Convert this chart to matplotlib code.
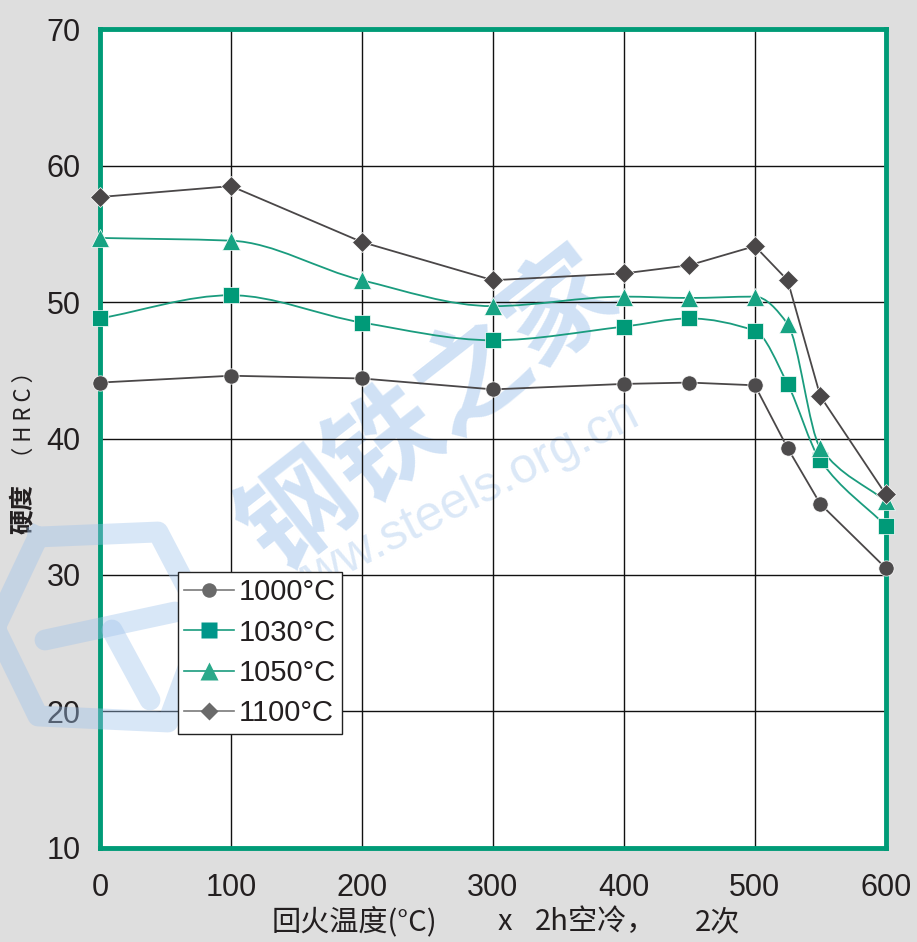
import numpy as np
from matplotlib import pyplot as plt
from matplotlib.path import Path
from matplotlib.patches import PathPatch
from matplotlib.lines import Line2D

plt.rcParams['font.family'] = ['Liberation Sans', 'Noto Sans CJK SC', 'DejaVu Sans']

temps = [0, 100, 200, 300, 400, 450, 500, 525, 550, 600]
hrc_1000 = [44.1, 44.6, 44.4, 43.6, 44.0, 44.1, 43.9, 39.3, 35.2, 30.5]
hrc_1030 = [48.8, 50.5, 48.5, 47.2, 48.2, 48.8, 47.9, 44.0, 38.4, 33.6]
hrc_1050 = [54.7, 54.5, 51.6, 49.7, 50.4, 50.3, 50.4, 48.4, 39.3, 35.4]
hrc_1100 = [57.7, 58.5, 54.4, 51.6, 52.1, 52.7, 54.1, 51.6, 43.1, 35.9]
labels = ['1000°C', '1030°C', '1050°C', '1100°C']

xticks = [0, 100, 200, 300, 400, 500, 600]
yticks = [10, 20, 30, 40, 50, 60, 70]

GREEN = '#009b77'
GRAY = '#4a4748'
INK = '#231f20'
W, H = 917, 942


def smooth_path(x, y):
    # cubic bezier through the points (monotone hermite slopes)
    x = np.asarray(x, float)
    y = np.asarray(y, float)
    h = np.diff(x)
    d = np.diff(y) / h
    m = np.zeros_like(y)
    m[0], m[-1] = d[0], d[-1]
    for i in range(1, len(y) - 1):
        if d[i - 1] * d[i] > 0:
            m[i] = 2 / (1 / d[i - 1] + 1 / d[i])
    verts = [(x[0], y[0])]
    codes = [Path.MOVETO]
    for i in range(len(x) - 1):
        verts += [(x[i] + h[i] / 3, y[i] + m[i] * h[i] / 3),
                  (x[i + 1] - h[i] / 3, y[i + 1] - m[i + 1] * h[i] / 3),
                  (x[i + 1], y[i + 1])]
        codes += [Path.CURVE4] * 3
    return Path(verts, codes)


def px(xs, ys):
    return [v / W for v in xs], [1 - v / H for v in ys]


fig = plt.figure(figsize=(9.17, 9.42), dpi=100, facecolor='#dedede')
ax = fig.add_axes([0.109, 0.1, 0.857, 0.869])
ax.set_xlim(0, 600)
ax.set_ylim(10, 70)
ax.set_xticks(xticks)
ax.set_yticks(yticks)
ax.grid(True, color='#111111', lw=1.0)
ax.set_axisbelow(True)
for s in ax.spines.values():
    s.set_color(GREEN)
    s.set_linewidth(3.5)
ax.tick_params(length=0, labelsize=22, colors=INK)
ax.tick_params(axis='x', pad=18)
ax.tick_params(axis='y', pad=14)

# watermark
ax.text(252, 42, '钢铁之家', fontsize=80, fontweight='bold', color='#a9c9ee',
        alpha=0.55, rotation=38, ha='center', va='center', zorder=0.5,
        family=['Noto Sans CJK SC'])
ax.text(272, 35.2, 'www.steels.org.cn', fontsize=36, color='#c3d9f2',
        alpha=0.6, rotation=27, ha='center', va='center', zorder=0.5)

series = [
    (hrc_1000, GRAY, '#4d4b4c', '#6a6a6a', 'o', 11, False),
    (hrc_1030, '#1a9c7e', '#009a78', '#00968a', 's', 12, True),
    (hrc_1050, '#1a9c7e', '#17a383', '#2aa98a', '^', 13, True),
    (hrc_1100, GRAY, '#4a4748', '#6a6a6a', 'D', 10, False),
]
handles = []
for vals, lc, mc, hc, mk, ms, smooth in series:
    if smooth:
        ax.add_patch(PathPatch(smooth_path(temps, vals), fill=False,
                               edgecolor=lc, lw=1.3, zorder=3))
    else:
        ax.plot(temps, vals, color=lc, lw=1.3, zorder=3)
    ax.plot(temps, vals, ls='none', marker=mk, ms=ms, color=mc,
            mec='white', mew=0.5, zorder=4, clip_on=False)
    handles.append(Line2D([], [], color=lc if smooth else '#7a7a7a', lw=1.2,
                          marker=mk, ms=ms * 0.95, mfc=hc, mec='none'))

# logo watermark (hexagon with T)
logo_kw = dict(color='#9fc3ec', lw=15, alpha=0.4, zorder=5)
hx, hy = px([38, 158, 205, 168, 38, -5, 38], [537, 532, 622, 722, 716, 628, 537])
fig.add_artist(Line2D(hx, hy, solid_joinstyle='round', **logo_kw))
tx, ty = px([45, 175], [640, 612])
fig.add_artist(Line2D(tx, ty, solid_capstyle='round', **logo_kw))
sx, sy = px([112, 150], [630, 700])
fig.add_artist(Line2D(sx, sy, solid_capstyle='round', **logo_kw))

leg = fig.legend(handles, labels, loc='upper left',
                 bbox_to_anchor=(178 / W, 1 - 572 / H), frameon=True,
                 prop={'size': 21},
                 fancybox=False, edgecolor='#222222', framealpha=1,
                 handlelength=1.7, handletextpad=0.15, borderpad=0.22,
                 labelspacing=0.42, borderaxespad=0)
leg.set_zorder(6)
leg.get_frame().set_linewidth(1.0)
for t in leg.get_texts():
    t.set_color(INK)

xl_kw = dict(fontsize=21, va='center', color=INK,
             family=['Noto Sans CJK SC', 'DejaVu Sans'])
fig.text(272 / W, 1 - 922 / H, '回火温度(°C)', ha='left', **xl_kw)
fig.text(505 / W, 1 - 922 / H, 'x', ha='center', **xl_kw)
fig.text(535 / W, 1 - 922 / H, '2h空冷，', ha='left', **xl_kw)
fig.text(740 / W, 1 - 922 / H, '2次', ha='right', **xl_kw)

fig.text(24 / W, 1 - 509 / H, '硬度', rotation=90, fontsize=18,
         fontweight='bold', ha='center', va='center', color=INK,
         family=['Noto Sans CJK SC'])
fig.text(24 / W, 1 - 415 / H, '（ H R C ）', rotation=90, fontsize=16,
         ha='center', va='center', color=INK,
         family=['Noto Sans CJK SC'])

fig.savefig('out.png', dpi=100, facecolor=fig.get_facecolor())
